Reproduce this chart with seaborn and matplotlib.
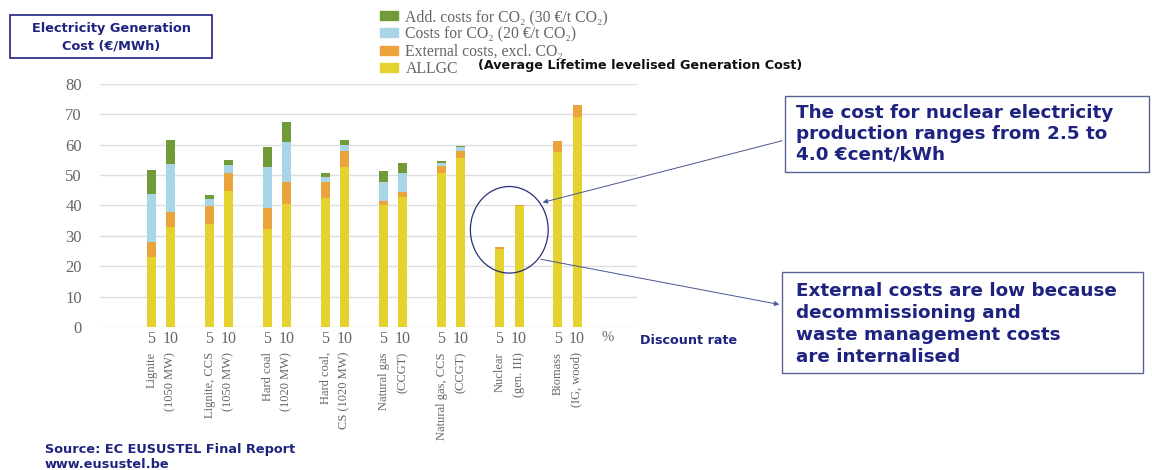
import numpy as np
import pandas as pd
import matplotlib.pyplot as plt
from matplotlib.patches import Patch, Ellipse, Rectangle
import seaborn as sns

# technologies and discount rates
techs = ['Lignite\n(1050 MW)', 'Lignite, CCS\n(1050 MW)', 'Hard coal\n(1020 MW)',
         'Hard coal,\nCS (1020 MW)', 'Natural gas\n(CCGT)', 'Natural gas, CCS\n(CCGT)',
         'Nuclear\n(gen. III)', 'Biomass\n(IG, wood)']
rates = ['5', '10']

# segment heights (EUR/MWh) at 5 % and 10 % discount rate
allgc_5 = [23.0, 33.9, 32.2, 42.6, 40.0, 50.6, 25.8, 57.5]
allgc_10 = [32.8, 44.8, 40.5, 52.6, 42.7, 55.6, 39.8, 69.0]
ext_5 = [4.9, 5.8, 6.9, 5.0, 1.6, 2.4, 0.4, 3.8]
ext_10 = [5.0, 6.0, 7.1, 5.5, 1.8, 2.4, 0.3, 4.0]
co2_5 = [15.8, 2.4, 13.5, 1.8, 6.1, 1.1, 0.0, 0.0]
co2_10 = [15.9, 2.5, 13.2, 1.7, 6.1, 1.1, 0.0, 0.0]
add_5 = [8.1, 1.2, 6.6, 1.3, 3.8, 0.6, 0.0, 0.0]
add_10 = [7.7, 1.6, 6.6, 1.6, 3.5, 0.6, 0.0, 0.0]

layer_names = ['Add. costs for CO₂ (30 €/t CO₂)', 'Costs for CO₂ (20 €/t CO₂)',
               'External costs, excl. CO₂', 'ALLGC']
colors = ['#719b38', '#a9d6e6', '#eba43c', '#e6d22f']

navy = '#1f2380'
grey = '#666666'
serif = ['Liberation Serif', 'DejaVu Serif']
sans = ['DejaVu Sans']

rows = []
for r, a, e, c, d in [('5', allgc_5, ext_5, co2_5, add_5), ('10', allgc_10, ext_10, co2_10, add_10)]:
    for i, t in enumerate(techs):
        rows.append({'tech': t, 'rate': r, 'allgc': a[i], 'ext': e[i], 'co2': c[i], 'add': d[i]})
df = pd.DataFrame(rows)
df['l4'] = df['allgc']
df['l3'] = df['l4'] + df['ext']
df['l2'] = df['l3'] + df['co2']
df['l1'] = df['l2'] + df['add']

sns.set_style('white')
plt.rcParams['font.family'] = serif

fig = plt.figure(figsize=(11.52, 4.70), dpi=100)
ax = fig.add_axes([100 / 1152, 1 - 327 / 470, 537 / 1152, 243 / 470])

# stacked bars: draw cumulative totals, tallest first
for col, c in zip(['l1', 'l2', 'l3', 'l4'], colors):
    sns.barplot(data=df, x='tech', y=col, hue='rate', order=techs, hue_order=rates,
                palette={'5': c, '10': c}, width=0.672, gap=0.54, dodge=True,
                saturation=1, errorbar=None, legend=False, linewidth=0, ax=ax)

ax.set_ylim(0, 80)
ax.set_xlim(-1.05, 8.2)
ax.set_yticks(range(0, 81, 10))
ax.yaxis.grid(True, color='#dedede', lw=1)
ax.set_axisbelow(True)
for s in ax.spines.values():
    s.set_visible(False)
ax.set_xlabel('')
ax.set_ylabel('')
ax.tick_params(axis='y', length=0, pad=13, labelsize=12, labelcolor=grey)

# rate tick labels under each bar
centers, labels = [], []
for cont, r in zip(ax.containers[-2:], rates):
    for bar in cont:
        centers.append(bar.get_x() + bar.get_width() / 2)
        labels.append(r)
order = np.argsort(centers)
ax.set_xticks(np.array(centers)[order])
ax.set_xticklabels(np.array(labels)[order])
ax.tick_params(axis='x', length=0, pad=3, labelsize=11.5, labelcolor=grey)
ax.annotate('%', xy=(len(techs) - 0.3, 0), xycoords=('data', 'axes fraction'),
            xytext=(0, -3), textcoords='offset points', ha='center', va='top',
            fontsize=10.5, color=grey)

# technology names, rotated
for i, t in enumerate(techs):
    ax.annotate(t, xy=(i, 0), xycoords=('data', 'axes fraction'), xytext=(0, -18),
                textcoords='offset points', rotation=90, ha='center', va='top',
                multialignment='right', fontsize=9, color=grey, linespacing=1.75)

# nuclear ellipse and arrows
nuc = techs.index('Nuclear\n(gen. III)')
ecx, ecy, ew, eh = nuc, 32, 1.34, 28.5
ax.add_patch(Ellipse((ecx, ecy), ew, eh, fill=False, ec='#2b2f7a', lw=0.9, clip_on=False))
p1 = (ecx + ew / 2 * np.cos(np.radians(38)), ecy + eh / 2 * np.sin(np.radians(38)))
p2 = (ecx + ew / 2 * np.cos(np.radians(-42)), ecy + eh / 2 * np.sin(np.radians(-42)))
ax.annotate('', xy=p1, xycoords='data', xytext=(785 / 1152, 1 - 140 / 470),
            textcoords='figure fraction',
            arrowprops=dict(arrowstyle='-|>', color='#4a5690', lw=0.7, mutation_scale=7))
ax.annotate('', xy=(782 / 1152, 1 - 305 / 470), xycoords='figure fraction', xytext=p2,
            textcoords='data',
            arrowprops=dict(arrowstyle='-|>', color='#4a5690', lw=0.7, mutation_scale=7))

# legend
handles = [Patch(color=c, label=n) for c, n in zip(colors, layer_names)]
fig.legend(handles=handles, loc='upper left', bbox_to_anchor=(374 / 1152, 1 - 3 / 470),
           frameon=False, handlelength=1.15, handleheight=0.5, handletextpad=0.45,
           labelspacing=0.08, borderaxespad=0, prop={'family': serif, 'size': 11.3},
           labelcolor=grey)
fig.text(478 / 1152, 1 - 65 / 470, '(Average Lifetime levelised Generation Cost)',
         family=sans, weight='bold', fontsize=9.2, color='#111111', va='center')

# y-axis title box
fig.add_artist(Rectangle((10 / 1152, 1 - 58 / 470), 202 / 1152, 43 / 470,
                         transform=fig.transFigure, fill=False, ec=navy, lw=1.2))
fig.text(111 / 1152, 1 - 37 / 470, 'Electricity Generation\nCost (€/MWh)', family=sans,
         weight='bold', fontsize=9.3, color=navy, ha='center', va='center', linespacing=1.45)

fig.text(640 / 1152, 1 - 341 / 470, 'Discount rate', family=sans, weight='bold',
         fontsize=9.2, color=navy, va='center')

# callout boxes
fig.add_artist(Rectangle((785 / 1152, 1 - 172 / 470), 364 / 1152, 76 / 470,
                         transform=fig.transFigure, fill=False, ec='#5a6296', lw=1))
fig.text(796 / 1152, 1 - 134 / 470,
         'The cost for nuclear electricity\nproduction ranges from 2.5 to\n4.0 €cent/kWh',
         family=sans, weight='bold', fontsize=13.2, color=navy, va='center', linespacing=1.2)
fig.add_artist(Rectangle((782 / 1152, 1 - 373 / 470), 361 / 1152, 101 / 470,
                         transform=fig.transFigure, fill=False, ec='#5a6296', lw=1))
fig.text(796 / 1152, 1 - 324 / 470,
         'External costs are low because\ndecommissioning and\nwaste management costs\nare internalised',
         family=sans, weight='bold', fontsize=13.2, color=navy, va='center', linespacing=1.27)

fig.text(45 / 1152, 1 - 450 / 470, 'Source: EC EUSUSTEL Final Report', family=sans,
         weight='bold', fontsize=9.3, color=navy, va='center')
fig.text(45 / 1152, 1 - 464 / 470, 'www.eusustel.be', family=sans,
         weight='bold', fontsize=9.3, color=navy, va='center')

fig.savefig('out.png', dpi=100)
